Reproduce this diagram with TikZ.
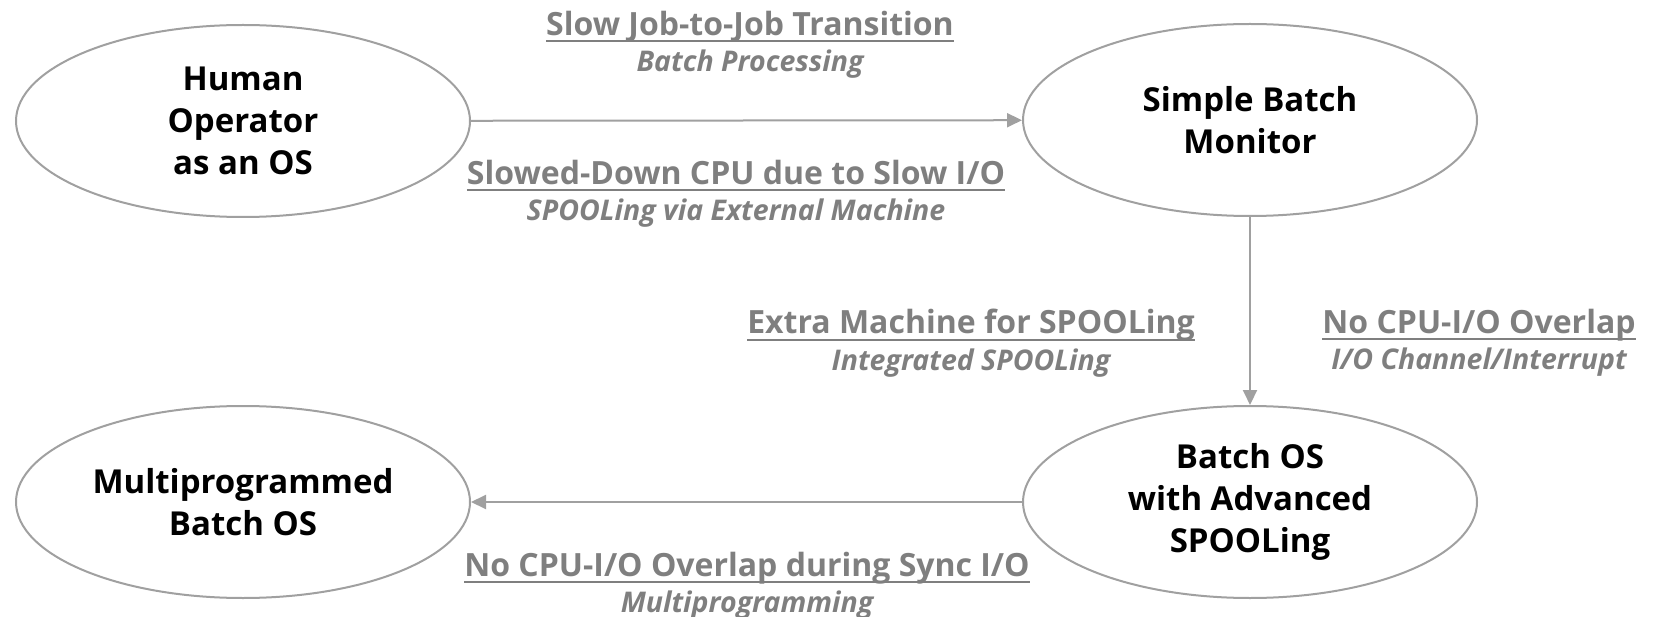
\documentclass[tikz,border=0pt]{standalone}
\usepackage{fontspec}
\setmainfont{Open Sans}
\usetikzlibrary{shapes.geometric,arrows.meta}

\definecolor{linegray}{RGB}{160,160,160}
\definecolor{labelgray}{RGB}{127,127,127}

% underline at a fixed distance below the baseline
\newcommand\fixedul[1]{\setbox0\hbox{#1}\rlap{\rule[-7pt]{\wd0}{2pt}}\box0}
% two-line transition label: problem (underlined) and remedy (italic)
\newcommand\translabel[2]{{\fontsize{32}{36.5}\selectfont\bfseries\fixedul{#1}}\\{\fontsize{28.5}{36.5}\selectfont\bfseries\itshape #2}}

\tikzset{
  stage/.style={ellipse, draw=linegray, line width=2pt, fill=white,
    minimum width=454pt, minimum height=192pt, inner sep=0pt, align=center,
    font=\fontsize{33}{42}\selectfont\bfseries, text=black},
  conn/.style={draw=linegray, line width=2pt,
    -{Triangle[length=15pt,width=14pt]}, fill=linegray},
  translab/.style={align=center, text=labelgray, inner sep=0pt,
    font=\fontsize{32}{36.5}\selectfont}
}

\begin{document}
\begin{tikzpicture}[x=1pt, y=-1pt]
  \useasboundingbox (0,0) rectangle (1653,617);

  % stages
  \node[stage] (human) at (243,121) {Human\\Operator\\as an OS};
  \node[stage] (simple) at (1250,120) {Simple Batch\\Monitor};
  \node[stage] (spool) at (1250,502) {Batch OS\\with Advanced\\SPOOLing};
  \node[stage] (multi) at (243,502) {Multiprogrammed\\Batch OS};

  % transitions
  \draw[conn] (human) -- (simple);
  \draw[conn] (simple) -- (spool);
  \draw[conn] (spool) -- (multi);

  % transition labels
  \node[translab] (l1) at (750,45) {\translabel{Slow Job-to-Job Transition}{Batch Processing}};
  \node[translab] (l2) at (736,194) {\translabel{Slowed-Down CPU due to Slow I/O}{SPOOLing via External Machine}};
  \node[translab] (l3) at (971,343) {\translabel{Extra Machine for SPOOLing}{Integrated SPOOLing}};
  \node[translab] (l4) at (1479,343) {\translabel{No CPU-I/O Overlap}{I/O Channel/Interrupt}};
  \node[translab] (l5) at (747,586) {\translabel{No CPU-I/O Overlap during Sync I/O}{Multiprogramming}};
\end{tikzpicture}
\end{document}
